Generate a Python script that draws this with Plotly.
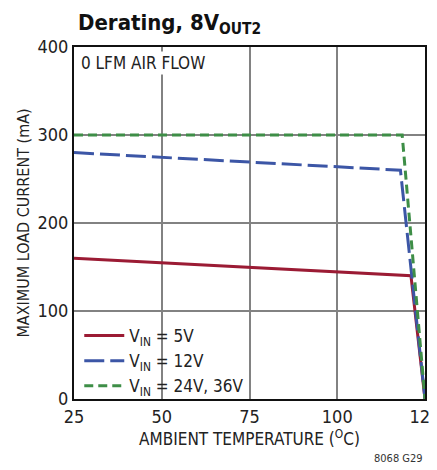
import plotly.graph_objects as go

# derating curves
temp_5v = [25, 121, 125]
load_5v = [160, 140, 0]
temp_12v = [25, 118, 125]
load_12v = [280, 260, 0]
temp_24v = [25, 118.5, 125]
load_24v = [300, 300, 0]

x_ticks = [25, 50, 75, 100, 125]
y_ticks = [0, 100, 200, 300, 400]

FONT = "DejaVu Sans Condensed, Liberation Sans Narrow, sans-serif"

# the page body adds an 8px margin, so the figure is 8px smaller each way
W, H = 429, 462

fig = go.Figure()
fig.add_trace(go.Scatter(
    x=temp_5v, y=load_5v, mode='lines', name='V<sub>IN</sub> = 5V',
    line=dict(color='#9B1B34', width=3)
))
fig.add_trace(go.Scatter(
    x=temp_12v, y=load_12v, mode='lines', name='V<sub>IN</sub> = 12V',
    line=dict(color='#3C56A6', width=3, dash='20px,6px')
))
fig.add_trace(go.Scatter(
    x=temp_24v, y=load_24v, mode='lines', name='V<sub>IN</sub> = 24V, 36V',
    line=dict(color='#3E8E47', width=3, dash='9px,5px')
))

fig.add_annotation(
    x=0.015, y=0.99, xref='paper', yref='paper', xanchor='left', yanchor='top',
    text='0 LFM AIR FLOW', showarrow=False,
    font=dict(family=FONT, size=17, color='#222'), bgcolor='white'
)
fig.add_annotation(
    x=1.0, y=-0.17, xref='paper', yref='paper', xanchor='right', yanchor='middle',
    text='8068 G29', showarrow=False,
    font=dict(family=FONT, size=11, color='#333')
)

fig.update_layout(
    width=W, height=H,
    margin=dict(l=66, r=12, t=39, b=71, autoexpand=False),
    plot_bgcolor='white', paper_bgcolor='white',
    font=dict(family=FONT, size=16, color='#222'),
    title=dict(
        text='<b>Derating, 8V<sub>OUT2</sub></b>',
        x=70 / W, xanchor='left', y=1 - 14 / H, yanchor='middle',
        font=dict(family=FONT, size=22, color='#111')
    ),
    showlegend=True,
    legend=dict(
        x=0.015, y=0.23, xanchor='left', yanchor='top',
        bgcolor='rgba(0,0,0,0)', font=dict(family=FONT, size=17),
        itemwidth=40, tracegroupgap=0
    ),
    xaxis=dict(
        range=[25, 125], tickvals=x_ticks, showgrid=True,
        gridcolor='#828282', gridwidth=1.5, zeroline=False,
        showline=True, linecolor='#111', linewidth=2, mirror=True,
        ticks='', tickfont=dict(size=18), automargin=False,
        ticklabeloverflow='allow',
        title=dict(text='AMBIENT TEMPERATURE (<sup>O</sup>C)', font=dict(size=17), standoff=4)
    ),
    yaxis=dict(
        range=[0, 400], tickvals=y_ticks, showgrid=True,
        gridcolor='#828282', gridwidth=1.5, zeroline=False,
        showline=True, linecolor='#111', linewidth=2, mirror=True,
        ticks='', tickfont=dict(size=18), automargin=False,
        ticklabeloverflow='allow',
        title=dict(text='MAXIMUM LOAD CURRENT (mA)', font=dict(size=16), standoff=4)
    ),
)

fig.write_html("out.html")
